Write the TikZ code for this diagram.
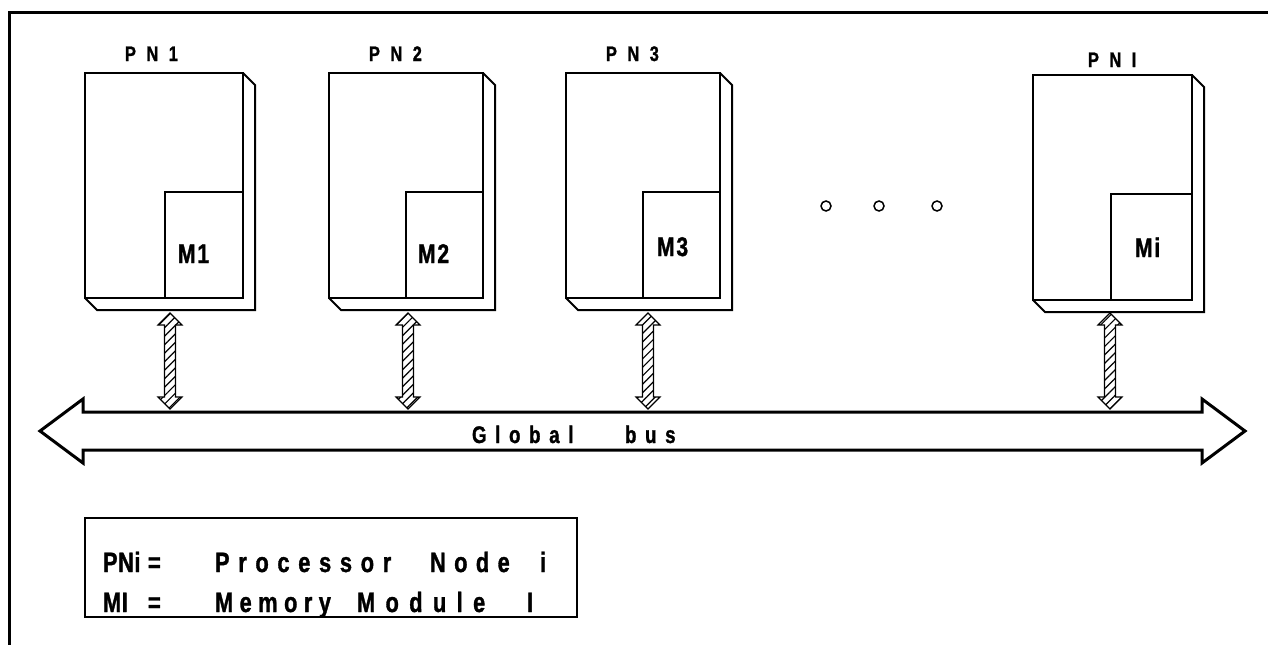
\documentclass[tikz,border=0pt]{standalone}
\usepackage{fontspec}
\newfontfamily\lf{Liberation Sans}[FakeStretch=0.78, BoldFeatures={FakeBold=1.2}]
\usetikzlibrary{patterns.meta,calc}
\tikzset{
  pnbox/.style={draw, line width=2.6pt, inner sep=0pt, outer sep=0pt, minimum height=225pt, anchor=north west},
  mbox/.style={draw, line width=2.4pt, inner sep=0pt, outer sep=0pt, minimum width=78pt, minimum height=106pt, anchor=south east},
  depth/.style={line width=2pt, line join=miter},
  txt/.style={inner sep=0pt, outer sep=0pt, anchor=base west},
  pnlab/.style={txt, font=\lf\bfseries\fontsize{21}{24}\selectfont\addfontfeature{LetterSpace=50}},
  mlab/.style={txt, font=\lf\bfseries\fontsize{27}{30}\selectfont\addfontfeature{LetterSpace=7}},
  buslab/.style={txt, font=\lf\bfseries\fontsize{24}{27}\selectfont\addfontfeature{LetterSpace=36}},
  leglab/.style={txt, font=\lf\bfseries\fontsize{28}{30}\selectfont\addfontfeature{LetterSpace=#1}},
  leglab/.default=2,
  hatchlink/.style={draw, line width=1.1pt, line join=miter,
    pattern={Lines[angle=45,distance=6pt,line width=1.2pt]},
    to path={-- ($(\tikztostart)+(12,12)$) -- ($(\tikztostart)+(5.5,12)$)
      -- ($(\tikztotarget)+(5.5,-12)$) -- ($(\tikztotarget)+(12,-12)$)
      -- (\tikztotarget) -- ($(\tikztotarget)+(-12,-12)$) -- ($(\tikztotarget)+(-5.5,-12)$)
      -- ($(\tikztostart)+(-5.5,12)$) -- ($(\tikztostart)+(-12,12)$) -- cycle}},
  dot/.style={draw, line width=1.5pt, circle, minimum size=10pt, inner sep=0pt}
}
\begin{document}
\begin{tikzpicture}[x=1pt,y=-1pt]
\useasboundingbox (0,0) rectangle (1268,645);
% frame
\draw[line width=3pt] (1268,12) -- (9,12) -- (9,645);

% processor nodes
\node[pnbox, minimum width=158pt] (pn1) at (85,73) {};
\node[pnbox, minimum width=154pt] (pn2) at (329,73) {};
\node[pnbox, minimum width=154pt] (pn3) at (566,73) {};
\node[pnbox, minimum width=159pt] (pni) at (1033,75) {};
\foreach \p in {pn1,pn2,pn3,pni}{
  \draw[depth] (\p.north east) -- ++(12,12) |- ($(\p.south west)+(12,12)$) -- (\p.south west);
}
% memory modules
\node[mbox] (m1) at (pn1.south east) {};
\node[mbox, minimum width=77pt] (m2) at (pn2.south east) {};
\node[mbox, minimum width=77pt] (m3) at (pn3.south east) {};
\node[mbox, minimum width=81pt] (mi) at (pni.south east) {};

% labels
\node[pnlab] (lpn1) at (125,61) {PN1};
\node[pnlab] (lpn2) at (369,61) {PN2};
\node[pnlab] (lpn3) at (606,61) {PN3};
\node[pnlab] (lpni) at (1088,67) {PNI};
\node[mlab] (lm1) at (178,263) {M1};
\node[mlab] (lm2) at (418,263) {M2};
\node[mlab] (lm3) at (657,256) {M3};
\node[mlab] (lmi) at (1135,257) {Mi};

% dots
\node[dot] (d1) at (826,206) {};
\node[dot] (d2) at (879,206) {};
\node[dot] (d3) at (937,206) {};

% global bus
\draw[line width=3pt, line join=miter] (40,431) coordinate (busl) -- (83,399) -- (83,412) -- (1202,412)
  -- (1202,399) -- (1245,431) coordinate (busr) -- (1202,463) -- (1202,450) -- (83,450) -- (83,463) -- cycle;
\node[buslab] (bus1) at (472,443) {Global};
\node[buslab] (bus2) at (625,443) {bus};

% links
\coordinate (t1) at (170,313); \coordinate (b1) at (170,409);
\coordinate (t2) at (408,313); \coordinate (b2) at (408,409);
\coordinate (t3) at (648,313); \coordinate (b3) at (648,409);
\coordinate (t4) at (1110,313); \coordinate (b4) at (1110,409);
\path[hatchlink] (t1) to (b1);
\path[hatchlink] (t2) to (b2);
\path[hatchlink] (t3) to (b3);
\path[hatchlink] (t4) to (b4);

% legend
\node[draw, line width=2pt, inner sep=0pt, outer sep=0pt, anchor=north west,
  minimum width=492pt, minimum height=99pt] (legend) at (85,518) {};
\node[leglab] (g1) at (103,572) {PNi};
\node[leglab] (g2) at (148,572) {=};
\node[leglab=31] (g3) at (215,572) {Processor};
\node[leglab=30] (g4) at (430,572) {Node};
\node[leglab] (g5) at (540,572) {i};
\node[leglab] (g6) at (103,612) {MI};
\node[leglab] (g7) at (148,612) {=};
\node[leglab=23] (g8) at (215,612) {Memory};
\node[leglab=37] (g9) at (357,612) {Module};
\node[leglab] (g10) at (527,612) {I};
\end{tikzpicture}
\end{document}
